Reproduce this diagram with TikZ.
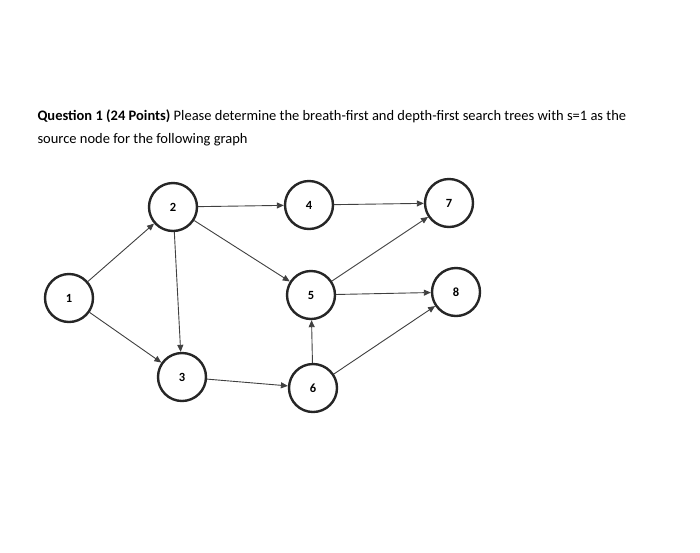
\documentclass[tikz,border=0pt]{standalone}
\usepackage{fontspec}
\setmainfont{Carlito}
\usetikzlibrary{arrows.meta}
\begin{document}
\begin{tikzpicture}[x=1pt,y=-1pt,
  vert/.style={circle,draw=black!85,line width=2.4pt,minimum size=48pt,inner sep=0pt,font=\bfseries\fontsize{12.5}{14}\selectfont},
  edge/.style={draw=black!75,line width=0.9pt,-{Triangle[length=7pt,width=6pt]}}]
\fill[white] (0,0) rectangle (700,552);
\useasboundingbox (0,0) rectangle (700,552);
\node[anchor=base west,font=\fontsize{14.5}{17}\selectfont] (t1) at (34,120) {\textbf{Question 1 (24 Points)} Please determine the breath-first and depth-first search trees with s=1 as the};
\node[anchor=base west,font=\fontsize{14.5}{17}\selectfont] (t2) at (34,143) {source node for the following graph};
\node[vert] (n1) at (69,298) {1};
\node[vert] (n2) at (173,207) {2};
\node[vert] (n4) at (309,205) {4};
\node[vert] (n7) at (449,203) {7};
\node[vert] (n5) at (311,295) {5};
\node[vert] (n8) at (456,292) {8};
\node[vert] (n3) at (182,377) {3};
\node[vert] (n6) at (313,388) {6};
\draw[edge] (n1) -- (n2);
\draw[edge] (n1) -- (n3);
\draw[edge] (n2) -- (n3);
\draw[edge] (n2) -- (n4);
\draw[edge] (n2) -- (n5);
\draw[edge] (n4) -- (n7);
\draw[edge] (n5) -- (n7);
\draw[edge] (n5) -- (n8);
\draw[edge] (n6) -- (n5);
\draw[edge] (n3) -- (n6);
\draw[edge] (n6) -- (n8);
\end{tikzpicture}
\end{document}
